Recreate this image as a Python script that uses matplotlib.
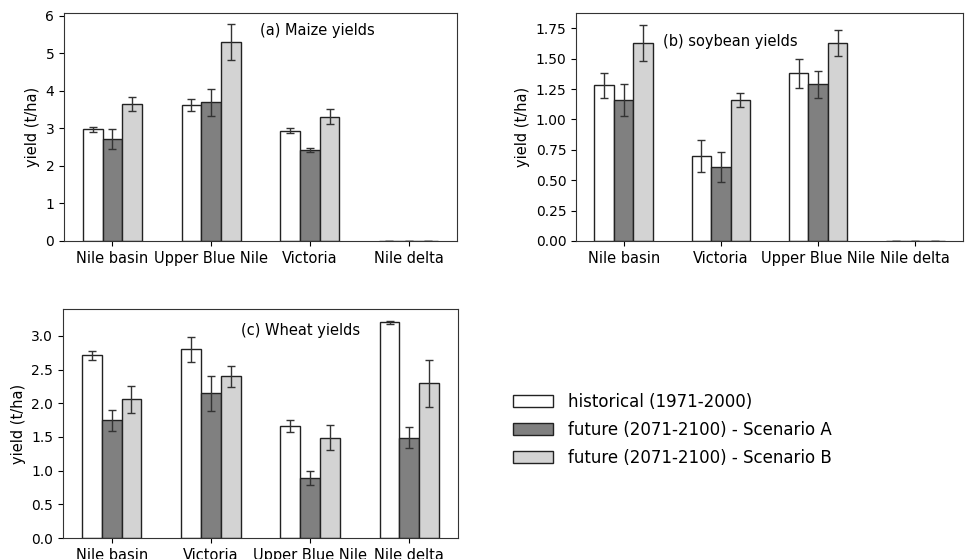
import numpy as np
import matplotlib
matplotlib.use('Agg')
import matplotlib.pyplot as plt
from matplotlib.patches import Patch

# series labels and colours
series_names = ['historical (1971-2000)', 'future (2071-2100) - Scenario A', 'future (2071-2100) - Scenario B']
series_colors = ['white', '#808080', '#d3d3d3']

# (a) maize
maize_regions = ['Nile basin', 'Upper Blue Nile', 'Victoria', 'Nile delta']
maize_hist = [2.97, 3.62, 2.94, 0]
maize_hist_err = [0.06, 0.17, 0.06, 0]
maize_a = [2.71, 3.69, 2.42, 0]
maize_a_err = [0.26, 0.35, 0.05, 0]
maize_b = [3.65, 5.30, 3.31, 0]
maize_b_err = [0.18, 0.48, 0.20, 0]

# (b) soybean
soy_regions = ['Nile basin', 'Victoria', 'Upper Blue Nile', 'Nile delta']
soy_hist = [1.28, 0.70, 1.38, 0]
soy_hist_err = [0.10, 0.13, 0.12, 0]
soy_a = [1.16, 0.61, 1.29, 0]
soy_a_err = [0.13, 0.125, 0.11, 0]
soy_b = [1.63, 1.16, 1.63, 0]
soy_b_err = [0.15, 0.06, 0.11, 0]

# (c) wheat
wheat_regions = ['Nile basin', 'Victoria', 'Upper Blue Nile', 'Nile delta']
wheat_hist = [2.71, 2.80, 1.66, 3.20]
wheat_hist_err = [0.07, 0.18, 0.085, 0.025]
wheat_a = [1.75, 2.15, 0.89, 1.49]
wheat_a_err = [0.155, 0.26, 0.10, 0.155]
wheat_b = [2.06, 2.40, 1.49, 2.30]
wheat_b_err = [0.20, 0.16, 0.19, 0.35]

plt.rcParams['font.family'] = ['DejaVu Sans']
plt.rcParams['font.size'] = 10


def draw_panel(ax, regions, vals, errs, title, title_pos, ylim, yticks):
    x = np.arange(len(regions))
    w = 0.2
    for i, (v, e) in enumerate(zip(vals, errs)):
        ax.bar(x + (i - 1) * w, v, w, yerr=e, color=series_colors[i],
               edgecolor='#222222', linewidth=1.0, capsize=3,
               error_kw=dict(ecolor='#333333', elinewidth=1.0, capthick=1.0))
    ax.set_xticks(x)
    ax.set_xticklabels(regions, fontsize=10.5)
    ax.set_xlim(-0.49, 3.49)
    ax.set_ylim(*ylim)
    ax.set_yticks(yticks)
    ax.set_ylabel('yield (t/ha)', fontsize=10.5)
    ax.text(title_pos[0], title_pos[1], title, transform=ax.transAxes,
            fontsize=10.5, va='center', ha='left')
    for s in ax.spines.values():
        s.set_color('#333333')


fig = plt.figure(figsize=(9.7, 5.59), dpi=100)
ax1 = fig.add_axes([64 / 970, 1 - 241 / 559, 393 / 970, 228 / 559])
ax2 = fig.add_axes([576 / 970, 1 - 241 / 559, 387 / 970, 228 / 559])
ax3 = fig.add_axes([63 / 970, 1 - 538 / 559, 395 / 970, 229 / 559])

draw_panel(ax1, maize_regions, [maize_hist, maize_a, maize_b],
           [maize_hist_err, maize_a_err, maize_b_err],
           '(a) Maize yields', (0.50, 0.925), (0, 6.07), np.arange(0, 7, 1))
draw_panel(ax2, soy_regions, [soy_hist, soy_a, soy_b],
           [soy_hist_err, soy_a_err, soy_b_err],
           '(b) soybean yields', (0.225, 0.873), (0, 1.876), np.arange(0, 1.76, 0.25))
ax2.yaxis.set_major_formatter(matplotlib.ticker.FormatStrFormatter('%.2f'))
draw_panel(ax3, wheat_regions, [wheat_hist, wheat_a, wheat_b],
           [wheat_hist_err, wheat_a_err, wheat_b_err],
           '(c) Wheat yields', (0.45, 0.904), (0, 3.40), np.arange(0, 3.01, 0.5))

handles = [Patch(facecolor=c, edgecolor='#222222', linewidth=1.0) for c in series_colors]
fig.legend(handles, series_names, loc='center left', bbox_to_anchor=(498 / 970, 1 - 430 / 559),
           frameon=False, fontsize=12, handlelength=2.4, handleheight=0.75,
           labelspacing=0.6, handletextpad=0.9)

fig.savefig('out.png', dpi=100)
